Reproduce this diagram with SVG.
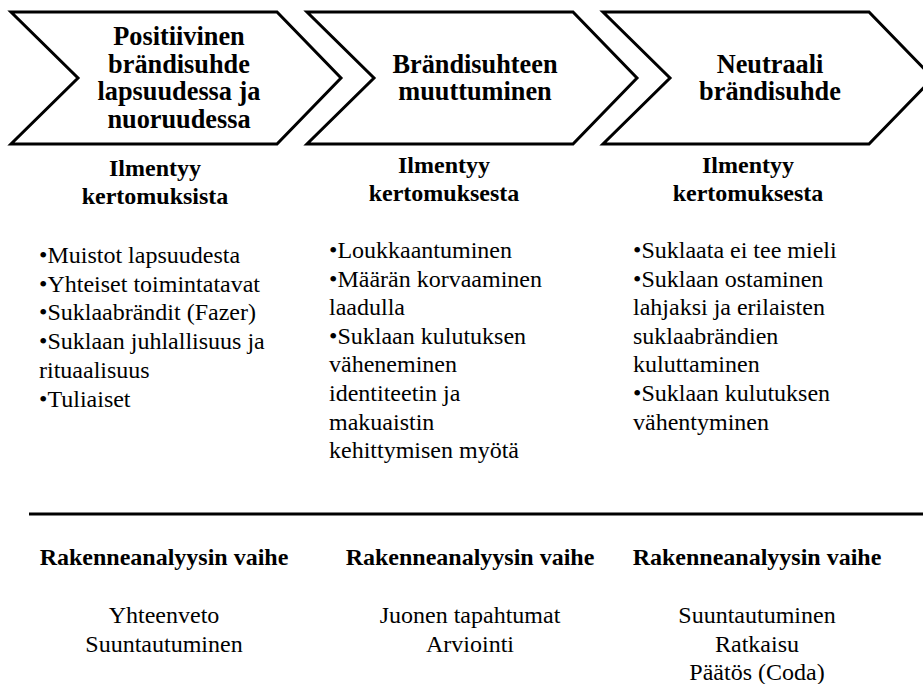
<svg xmlns="http://www.w3.org/2000/svg" width="923" height="684" viewBox="0 0 923 684">
<defs>
<polygon id="chev" points="0,12 266,12 330,78 266,144 0,144 67,78" fill="#fff" stroke="#000" stroke-width="3"/>
</defs>
<rect width="923" height="684" fill="#fff"/>
<g id="stage1">
<use href="#chev" x="11"/>
<text font-family="Liberation Serif" font-size="26.3" font-weight="bold" text-anchor="middle" fill="#000"><tspan x="179" y="45">Positiivinen</tspan><tspan x="179" y="72.7">brändisuhde</tspan><tspan x="179" y="100.3">lapsuudessa ja</tspan><tspan x="179" y="128">nuoruudessa</tspan></text>
</g>
<g id="stage2">
<use href="#chev" x="307"/>
<text font-family="Liberation Serif" font-size="26.3" font-weight="bold" text-anchor="middle" fill="#000"><tspan x="475" y="72.7">Brändisuhteen</tspan><tspan x="475" y="100.3">muuttuminen</tspan></text>
</g>
<g id="stage3">
<use href="#chev" x="603"/>
<text font-family="Liberation Serif" font-size="26.3" font-weight="bold" text-anchor="middle" fill="#000"><tspan x="770" y="72.7">Neutraali</tspan><tspan x="770" y="100.3">brändisuhde</tspan></text>
</g>
<g id="col1">
<text font-family="Liberation Serif" font-size="24" font-weight="bold" text-anchor="middle" fill="#000"><tspan x="155" y="176">Ilmentyy</tspan><tspan x="155" y="204">kertomuksista</tspan></text>
<text font-family="Liberation Serif" font-size="24" fill="#000"><tspan x="39" y="262.7">•Muistot lapsuudesta</tspan><tspan x="39" y="291.5">•Yhteiset toimintatavat</tspan><tspan x="39" y="320.3">•Suklaabrändit (Fazer)</tspan><tspan x="39" y="349.1">•Suklaan juhlallisuus ja</tspan><tspan x="39" y="377.9">rituaalisuus</tspan><tspan x="39" y="406.7">•Tuliaiset</tspan></text>
</g>
<g id="col2">
<text font-family="Liberation Serif" font-size="24" font-weight="bold" text-anchor="middle" fill="#000"><tspan x="444" y="173">Ilmentyy</tspan><tspan x="444" y="201">kertomuksesta</tspan></text>
<text font-family="Liberation Serif" font-size="24" fill="#000"><tspan x="329" y="258">•Loukkaantuminen</tspan><tspan x="329" y="286.6">•Määrän korvaaminen</tspan><tspan x="329" y="315.2">laadulla</tspan><tspan x="329" y="343.8">•Suklaan kulutuksen</tspan><tspan x="329" y="372.4">väheneminen</tspan><tspan x="329" y="401">identiteetin ja</tspan><tspan x="329" y="429.6">makuaistin</tspan><tspan x="329" y="458.2">kehittymisen myötä</tspan></text>
</g>
<g id="col3">
<text font-family="Liberation Serif" font-size="24" font-weight="bold" text-anchor="middle" fill="#000"><tspan x="748" y="173">Ilmentyy</tspan><tspan x="748" y="201">kertomuksesta</tspan></text>
<text font-family="Liberation Serif" font-size="24" fill="#000"><tspan x="633" y="258">•Suklaata ei tee mieli</tspan><tspan x="633" y="286.6">•Suklaan ostaminen</tspan><tspan x="633" y="315.2">lahjaksi ja erilaisten</tspan><tspan x="633" y="343.8">suklaabrändien</tspan><tspan x="633" y="372.4">kuluttaminen</tspan><tspan x="633" y="401">•Suklaan kulutuksen</tspan><tspan x="633" y="429.6">vähentyminen</tspan></text>
</g>
<g id="connectors">
<line x1="29" y1="514" x2="923" y2="514" stroke="#000" stroke-width="3"/>
</g>
<g id="phase1">
<text font-family="Liberation Serif" font-size="24" font-weight="bold" text-anchor="middle" fill="#000" x="164" y="565">Rakenneanalyysin vaihe</text>
<text font-family="Liberation Serif" font-size="24" text-anchor="middle" fill="#000"><tspan x="164" y="623">Yhteenveto</tspan><tspan x="164" y="651.5">Suuntautuminen</tspan></text>
</g>
<g id="phase2">
<text font-family="Liberation Serif" font-size="24" font-weight="bold" text-anchor="middle" fill="#000" x="470" y="565">Rakenneanalyysin vaihe</text>
<text font-family="Liberation Serif" font-size="24" text-anchor="middle" fill="#000"><tspan x="470" y="623">Juonen tapahtumat</tspan><tspan x="470" y="651.5">Arviointi</tspan></text>
</g>
<g id="phase3">
<text font-family="Liberation Serif" font-size="24" font-weight="bold" text-anchor="middle" fill="#000" x="757" y="565">Rakenneanalyysin vaihe</text>
<text font-family="Liberation Serif" font-size="24" text-anchor="middle" fill="#000"><tspan x="757" y="623">Suuntautuminen</tspan><tspan x="757" y="651.5">Ratkaisu</tspan><tspan x="757" y="680">Päätös (Coda)</tspan></text>
</g>
</svg>
